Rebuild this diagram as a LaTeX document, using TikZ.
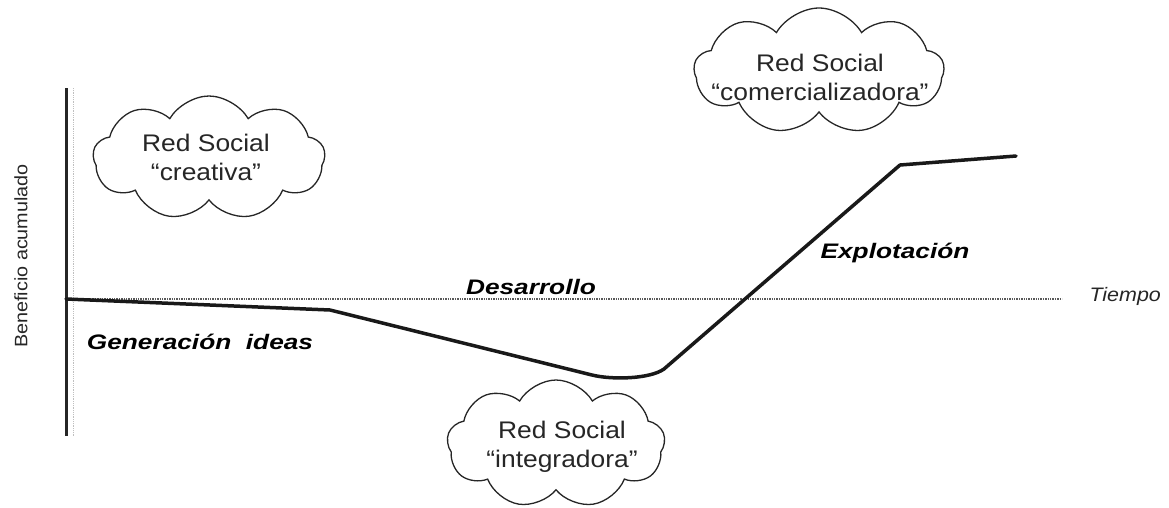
\documentclass[tikz,border=0pt]{standalone}
\usepackage{fontspec}
\setmainfont{Liberation Sans}
\newfontfamily\txtfont[FakeStretch=1.1]{Liberation Sans}
\newfontfamily\labfont[FakeStretch=1.25]{Liberation Sans}
\usetikzlibrary{shapes.symbols}
\begin{document}
\begin{tikzpicture}[x=1pt,y=-1pt,
  cloudbox/.style={cloud, draw=black!85, line width=1.3pt, cloud puffs=9, cloud puff arc=120,
     cloud ignores aspect, inner sep=0pt},
  cloudtext/.style={align=center, inner sep=0pt, font=\txtfont\fontsize{24}{29}\selectfont, text=black!85},
  phase/.style={font=\labfont\fontsize{21}{24}\selectfont\bfseries\itshape, text=black},
  curve/.style={line width=3.5pt, line join=round, line cap=round, black!90},
]
\useasboundingbox (0,0) rectangle (1169,507);
% axes
\coordinate (ytop) at (66,88);
\coordinate (ybot) at (66,436);
\coordinate (x0) at (66,299);
\coordinate (xend) at (1062,299);
\draw[black!25, densely dotted, line width=0.8pt] (73,88) -- (73,436);
\draw[line width=3pt, black!85] (ytop) -- (ybot);
\draw[line width=1.4pt, black!65, densely dotted] (x0) -- (xend);
\node[font=\txtfont\fontsize{19.5}{21}\selectfont\itshape, text=black!85, anchor=west] (tiempo) at (1086,296) {Tiempo};
\node[font=\txtfont\fontsize{18}{20}\selectfont, text=black!85, rotate=90] (benef) at (21,256) {Beneficio acumulado};
% curve
\coordinate (c0) at (66,299);
\coordinate (c1) at (330,310);
\coordinate (c2) at (592,375);
\coordinate (c3) at (664,369);
\coordinate (c4) at (900,165);
\coordinate (c5) at (1016,156);
\draw[curve] (c0) -- (c1) -- (c2) .. controls (612,380) and (650,379) .. (c3) -- (c4) -- (c5);
% phase labels
\node[phase] (gen) at (200,342) {Generación\ \ ideas};
\node[phase] (des) at (531,287) {Desarrollo};
\node[phase] (exp) at (895,253) {Explotación};
% clouds
\node[cloudbox, minimum width=232pt, minimum height=124pt] (cl1) at (209,158) {};
\node[cloudtext] (t1) at (206,157) {Red Social\\“creativa”};
\node[cloudbox, minimum width=250pt, minimum height=126pt] (cl2) at (819,71) {};
\node[cloudtext] (t2) at (820,77) {Red Social\\“comercializadora”};
\node[cloudbox, minimum width=218pt, minimum height=128pt] (cl3) at (556,444) {};
\node[cloudtext] (t3) at (562,447) {Red Social\\“integradora”};
\end{tikzpicture}
\end{document}
